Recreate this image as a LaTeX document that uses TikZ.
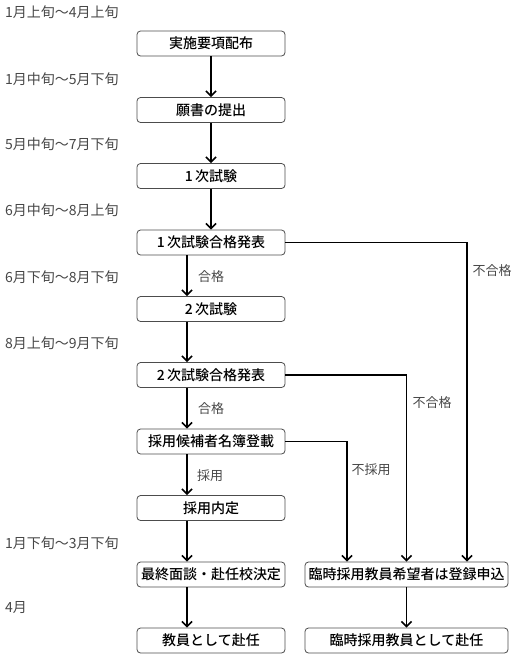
\documentclass[tikz,border=0pt]{standalone}
\usepackage{fontspec}
\setmainfont{Noto Sans CJK JP}[BoldFont={Noto Sans CJK JP Medium}]
\usetikzlibrary{arrows.meta}
\begin{document}
\begin{tikzpicture}[x=1pt,y=-1pt,
  box/.style={draw=black!70, line width=0.8pt, rounded corners=3.5pt, minimum height=25pt, inner sep=0pt,
    font=\fontsize{14}{15}\selectfont\bfseries, text=black},
  lbox/.style={box, minimum width=148pt},
  rbox/.style={box, minimum width=203pt},
  datelab/.style={anchor=west, inner sep=0pt, font=\fontsize{14}{15}\selectfont, text=black!72},
  lab/.style={inner sep=0pt, font=\fontsize{13}{14}\selectfont, text=black!72},
  arr/.style={line width=1.6pt, -{Straight Barb[length=5pt,width=10pt]}}]
\useasboundingbox (0,0) rectangle (515,657);

% date labels
\node[datelab] (d1) at (5,12) {1月上旬～4月上旬};
\node[datelab] (d2) at (5,79) {1月中旬～5月下旬};
\node[datelab] (d3) at (5,144) {5月中旬～7月下旬};
\node[datelab] (d4) at (5,210) {6月中旬～8月上旬};
\node[datelab] (d5) at (5,277) {6月下旬～8月下旬};
\node[datelab] (d6) at (5,343) {8月上旬～9月下旬};
\node[datelab] (d7) at (5,543) {1月下旬～3月下旬};
\node[datelab] (d8) at (5,608) {4月};

% left boxes
\node[lbox] (b1) at (211,43.5) {実施要項配布};
\node[lbox] (b2) at (211,110) {願書の提出};
\node[lbox] (b3) at (211,176) {1\,次試験};
\node[lbox] (b4) at (211,242.5) {1\,次試験合格発表};
\node[lbox] (b5) at (211,309) {2\,次試験};
\node[lbox] (b6) at (211,375) {2\,次試験合格発表};
\node[lbox] (b7) at (211,441.5) {採用候補者名簿登載};
\node[lbox] (b8) at (211,508) {採用内定};
\node[lbox] (b9) at (211,574.5) {最終面談・赴任校決定};
\node[lbox] (b10) at (211,640.5) {教員として赴任};

% right boxes
\node[rbox] (r1) at (406.5,574.5) {臨時採用教員希望者は登録申込};
\node[rbox] (r2) at (406.5,640.5) {臨時採用教員として赴任};

% column coordinates
\coordinate (cl) at (187,0);
\coordinate (c1) at (467,0);
\coordinate (c2) at (406.5,0);
\coordinate (c3) at (347,0);

% main arrows
\draw[arr] (b1) -- (b2);
\draw[arr] (b2) -- (b3);
\draw[arr] (b3) -- (b4);
\draw[arr] (b4.south -| cl) -- (b5.north -| cl);
\draw[arr] (b5.south -| cl) -- (b6.north -| cl);
\draw[arr] (b6.south -| cl) -- (b7.north -| cl);
\draw[arr] (b7.south -| cl) -- (b8.north -| cl);
\draw[arr] (b8.south -| cl) -- (b9.north -| cl);
\draw[arr] (b9.south -| cl) -- (b10.north -| cl);
\draw[arr] (r1) -- (r2);

% branch arrows
\draw[arr] (b4.east) -| (r1.north -| c1);
\draw[arr] (b6.east) -| (r1.north -| c2);
\draw[arr] (b7.east) -| (r1.north -| c3);

% labels
\node[lab] (l1) at (211,277) {合格};
\node[lab] (l2) at (211,409) {合格};
\node[lab] (l3) at (210,476) {採用};
\node[lab] (l4) at (492,271) {不合格};
\node[lab] (l5) at (432,403) {不合格};
\node[lab] (l6) at (371,470) {不採用};
\end{tikzpicture}
\end{document}
